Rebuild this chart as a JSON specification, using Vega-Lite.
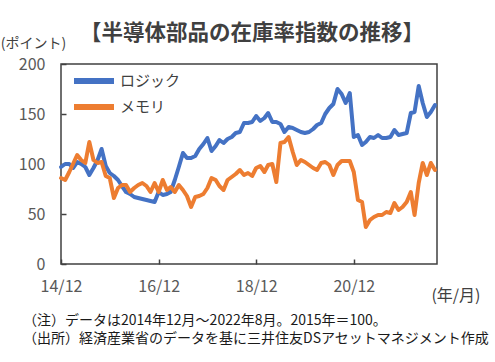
{
  "$schema": "https://vega.github.io/schema/vega-lite/v6.json",
  "width": 376,
  "height": 200,
  "autosize": "none",
  "padding": {"left": 61, "top": 64, "right": 58, "bottom": 98},
  "background": "white",
  "config": {
    "font": "Noto Sans CJK JP",
    "view": {"stroke": "#404040", "strokeWidth": 1.5}
  },
  "title": {
    "text": "【半導体部品の在庫率指数の推移】",
    "anchor": "start",
    "frame": "group",
    "dx": 19,
    "dy": 30,
    "offset": 22,
    "fontSize": 21.5,
    "fontWeight": "bold",
    "color": "#404040",
    "font": "Noto Sans CJK JP"
  },
  "data": {
    "values": [
      {"m": "2014-12-01", "ロジック": 97, "メモリ": 86},
      {"m": "2015-01-01", "ロジック": 100, "メモリ": 84},
      {"m": "2015-02-01", "ロジック": 100, "メモリ": 92},
      {"m": "2015-03-01", "ロジック": 96, "メモリ": 100},
      {"m": "2015-04-01", "ロジック": 102, "メモリ": 109},
      {"m": "2015-05-01", "ロジック": 100, "メモリ": 104},
      {"m": "2015-06-01", "ロジック": 97, "メモリ": 101},
      {"m": "2015-07-01", "ロジック": 89, "メモリ": 122},
      {"m": "2015-08-01", "ロジック": 96, "メモリ": 104},
      {"m": "2015-09-01", "ロジック": 104, "メモリ": 101},
      {"m": "2015-10-01", "ロジック": 115, "メモリ": 102},
      {"m": "2015-11-01", "ロジック": 98, "メモリ": 88},
      {"m": "2015-12-01", "ロジック": 91, "メモリ": 86},
      {"m": "2016-01-01", "ロジック": 88, "メモリ": 66},
      {"m": "2016-02-01", "ロジック": 84, "メモリ": 76},
      {"m": "2016-03-01", "ロジック": 78, "メモリ": 79},
      {"m": "2016-04-01", "ロジック": 72, "メモリ": 79},
      {"m": "2016-05-01", "ロジック": 70, "メモリ": 72},
      {"m": "2016-06-01", "ロジック": 67, "メモリ": 76},
      {"m": "2016-07-01", "ロジック": 66, "メモリ": 79},
      {"m": "2016-08-01", "ロジック": 65, "メモリ": 81},
      {"m": "2016-09-01", "ロジック": 64, "メモリ": 78},
      {"m": "2016-10-01", "ロジック": 63, "メモリ": 72},
      {"m": "2016-11-01", "ロジック": 62, "メモリ": 81},
      {"m": "2016-12-01", "ロジック": 72, "メモリ": 72},
      {"m": "2017-01-01", "ロジック": 69, "メモリ": 84},
      {"m": "2017-02-01", "ロジック": 70, "メモリ": 74},
      {"m": "2017-03-01", "ロジック": 72, "メモリ": 77},
      {"m": "2017-04-01", "ロジック": 84, "メモリ": 72},
      {"m": "2017-05-01", "ロジック": 97, "メモリ": 79},
      {"m": "2017-06-01", "ロジック": 111, "メモリ": 74},
      {"m": "2017-07-01", "ロジック": 106, "メモリ": 68},
      {"m": "2017-08-01", "ロジック": 106, "メモリ": 57},
      {"m": "2017-09-01", "ロジック": 108, "メモリ": 67},
      {"m": "2017-10-01", "ロジック": 115, "メモリ": 68},
      {"m": "2017-11-01", "ロジック": 120, "メモリ": 70},
      {"m": "2017-12-01", "ロジック": 126, "メモリ": 76},
      {"m": "2018-01-01", "ロジック": 113, "メモリ": 86},
      {"m": "2018-02-01", "ロジック": 118, "メモリ": 84},
      {"m": "2018-03-01", "ロジック": 124, "メモリ": 78},
      {"m": "2018-04-01", "ロジック": 121, "メモリ": 74},
      {"m": "2018-05-01", "ロジック": 125, "メモリ": 84},
      {"m": "2018-06-01", "ロジック": 127, "メモリ": 87},
      {"m": "2018-07-01", "ロジック": 131, "メモリ": 90},
      {"m": "2018-08-01", "ロジック": 132, "メモリ": 94},
      {"m": "2018-09-01", "ロジック": 141, "メモリ": 89},
      {"m": "2018-10-01", "ロジック": 141, "メモリ": 91},
      {"m": "2018-11-01", "ロジック": 142, "メモリ": 88},
      {"m": "2018-12-01", "ロジック": 148, "メモリ": 96},
      {"m": "2019-01-01", "ロジック": 143, "メモリ": 98},
      {"m": "2019-02-01", "ロジック": 146, "メモリ": 92},
      {"m": "2019-03-01", "ロジック": 151, "メモリ": 99},
      {"m": "2019-04-01", "ロジック": 142, "メモリ": 100},
      {"m": "2019-05-01", "ロジック": 142, "メモリ": 82},
      {"m": "2019-06-01", "ロジック": 140, "メモリ": 121},
      {"m": "2019-07-01", "ロジック": 132, "メモリ": 122},
      {"m": "2019-08-01", "ロジック": 137, "メモリ": 127},
      {"m": "2019-09-01", "ロジック": 136, "メモリ": 112},
      {"m": "2019-10-01", "ロジック": 134, "メモリ": 99},
      {"m": "2019-11-01", "ロジック": 132, "メモリ": 104},
      {"m": "2019-12-01", "ロジック": 131, "メモリ": 102},
      {"m": "2020-01-01", "ロジック": 132, "メモリ": 99},
      {"m": "2020-02-01", "ロジック": 135, "メモリ": 96},
      {"m": "2020-03-01", "ロジック": 139, "メモリ": 94},
      {"m": "2020-04-01", "ロジック": 141, "メモリ": 101},
      {"m": "2020-05-01", "ロジック": 150, "メモリ": 102},
      {"m": "2020-06-01", "ロジック": 156, "メモリ": 99},
      {"m": "2020-07-01", "ロジック": 160, "メモリ": 89},
      {"m": "2020-08-01", "ロジック": 175, "メモリ": 99},
      {"m": "2020-09-01", "ロジック": 170, "メモリ": 103},
      {"m": "2020-10-01", "ロジック": 161, "メモリ": 103},
      {"m": "2020-11-01", "ロジック": 171, "メモリ": 103},
      {"m": "2020-12-01", "ロジック": 127, "メモリ": 92},
      {"m": "2021-01-01", "ロジック": 129, "メモリ": 64},
      {"m": "2021-02-01", "ロジック": 119, "メモリ": 62},
      {"m": "2021-03-01", "ロジック": 122, "メモリ": 37},
      {"m": "2021-04-01", "ロジック": 127, "メモリ": 44},
      {"m": "2021-05-01", "ロジック": 126, "メモリ": 47},
      {"m": "2021-06-01", "ロジック": 129, "メモリ": 49},
      {"m": "2021-07-01", "ロジック": 126, "メモリ": 49},
      {"m": "2021-08-01", "ロジック": 126, "メモリ": 52},
      {"m": "2021-09-01", "ロジック": 127, "メモリ": 51},
      {"m": "2021-10-01", "ロジック": 134, "メモリ": 61},
      {"m": "2021-11-01", "ロジック": 129, "メモリ": 54},
      {"m": "2021-12-01", "ロジック": 130, "メモリ": 57},
      {"m": "2022-01-01", "ロジック": 131, "メモリ": 62},
      {"m": "2022-02-01", "ロジック": 151, "メモリ": 72},
      {"m": "2022-03-01", "ロジック": 152, "メモリ": 49},
      {"m": "2022-04-01", "ロジック": 178, "メモリ": 81},
      {"m": "2022-05-01", "ロジック": 161, "メモリ": 101},
      {"m": "2022-06-01", "ロジック": 147, "メモリ": 89},
      {"m": "2022-07-01", "ロジック": 152, "メモリ": 101},
      {"m": "2022-08-01", "ロジック": 159, "メモリ": 94}
    ]
  },
  "layer": [
    {
      "transform": [{"fold": ["ロジック", "メモリ"], "as": ["series", "value"]}],
      "mark": {"type": "line", "strokeWidth": 4, "strokeJoin": "round", "strokeCap": "round"},
      "encoding": {
        "x": {
          "field": "m",
          "type": "temporal",
          "scale": {
            "type": "utc",
            "domain": [
              {"year": 2014, "month": 12, "date": 1, "utc": true},
              {"year": 2022, "month": 8, "date": 16, "utc": true}
            ]
          },
          "axis": {
            "values": [
              {"year": 2014, "month": 12, "date": 1, "utc": true},
              {"year": 2016, "month": 12, "date": 1, "utc": true},
              {"year": 2018, "month": 12, "date": 1, "utc": true},
              {"year": 2020, "month": 12, "date": 1, "utc": true}
            ],
            "labelExpr": "utcFormat(datum.value, '%y/%m')",
            "domain": false,
            "grid": false,
            "tickSize": -5,
            "tickWidth": 1.5,
            "tickColor": "#404040",
            "labelFontSize": 16,
            "labelColor": "#595959",
            "labelFont": "Noto Sans CJK JP",
            "labelPadding": 19,
            "labelFlush": false,
            "title": "(年/月)",
            "titleX": 419,
            "titleY": 31,
            "titleAlign": "right",
            "titleBaseline": "middle",
            "titleFontSize": 16,
            "titleFontWeight": "normal",
            "titleColor": "#404040",
            "titleFont": "Noto Sans CJK JP"
          }
        },
        "y": {
          "field": "value",
          "type": "quantitative",
          "scale": {"domain": [0, 200], "nice": false},
          "axis": {
            "values": [0, 50, 100, 150, 200],
            "domain": false,
            "grid": false,
            "tickSize": -5,
            "tickWidth": 1.5,
            "tickColor": "#404040",
            "labelFontSize": 16,
            "labelColor": "#595959",
            "labelFont": "Noto Sans CJK JP",
            "labelPadding": 21,
            "title": "(ポイント)",
            "titleAngle": 0,
            "titleX": -28,
            "titleY": -21,
            "titleAlign": "center",
            "titleBaseline": "middle",
            "titleFontSize": 14,
            "titleFontWeight": "normal",
            "titleColor": "#404040",
            "titleFont": "Noto Sans CJK JP"
          }
        },
        "color": {
          "field": "series",
          "type": "nominal",
          "scale": {"domain": ["ロジック", "メモリ"], "range": ["#4472C4", "#ED7D31"]},
          "legend": {
            "orient": "none",
            "legendX": 22,
            "legendY": 6,
            "title": null,
            "symbolType": "M-2.5,0H2.5",
            "symbolSize": 256,
            "symbolStrokeWidth": 6,
            "labelFontSize": 15,
            "labelColor": "#404040",
            "labelFont": "Noto Sans CJK JP",
            "labelOffset": 15,
            "rowPadding": 2
          }
        }
      }
    },
    {
      "data": {
        "values": [
          {"note": "（注）データは2014年12月～2022年8月。2015年＝100。", "row": 0},
          {"note": "（出所）経済産業省のデータを基に三井住友DSアセットマネジメント作成", "row": 1}
        ]
      },
      "mark": {"type": "text", "align": "left", "baseline": "middle", "fontSize": 14, "color": "#1a1a1a", "font": "Noto Sans CJK JP", "x": -38},
      "encoding": {
        "y": {"field": "row", "type": "quantitative", "scale": {"domain": [0, 1], "range": [257, 275]}, "axis": null},
        "text": {"field": "note"}
      }
    }
  ],
  "resolve": {"scale": {"y": "independent"}}
}
